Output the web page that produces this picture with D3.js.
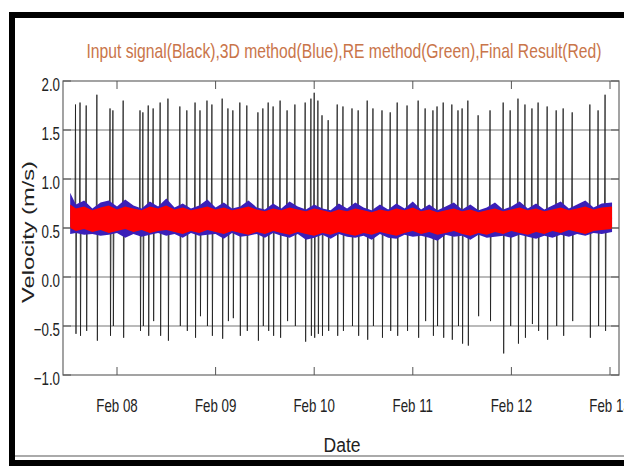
<!DOCTYPE html>
<html>
<head>
<meta charset="utf-8">
<script src="https://cdn.jsdelivr.net/npm/d3@7"></script>
<style>
  body { margin: 0; background: #fff; }
  svg { display: block; }
</style>
</head>
<body>
<div id="chart"></div>
<script>
// spikes of the input signal, hours after Feb 07 00:00
const spikeHours = [13.9, 15.0, 16.5, 19.1, 22.3, 23.0, 25.5, 29.6, 30.3, 31.6, 32.8, 34.5, 36.4,
  39.3, 41.0, 43.0, 44.2, 45.9, 47.1, 49.6, 51.0, 52.2, 53.9, 55.6, 58.3, 59.5, 60.8, 62.0,
  63.7, 65.4, 67.3, 69.8, 71.2, 72.0, 72.9, 73.9, 75.4, 77.6, 79.0, 81.2, 82.7, 84.9, 86.3,
  88.5, 90.5, 92.2, 94.6, 97.3, 99.0, 100.9, 101.9, 103.4, 105.5, 107.0, 108.0, 109.4, 111.9,
  114.8, 118.0, 119.7, 121.6, 123.3, 125.0, 126.5, 128.7, 130.9, 132.6, 134.8, 139.1, 141.1, 142.8]
const spikeHigh = [1.76, 1.78, 1.75, 1.86, 1.72, 1.70, 1.80, 1.70, 1.68, 1.75, 1.72, 1.78, 1.82,
  1.74, 1.70, 1.78, 1.70, 1.80, 1.76, 1.82, 1.72, 1.70, 1.78, 1.75, 1.68, 1.72, 1.78, 1.74,
  1.80, 1.70, 1.76, 1.78, 1.82, 1.88, 1.80, 1.65, 1.60, 1.76, 1.74, 1.72, 1.70, 1.80, 1.72,
  1.70, 1.68, 1.78, 1.75, 1.80, 1.72, 1.70, 1.74, 1.78, 1.76, 1.70, 1.72, 1.80, 1.65,
  1.70, 1.78, 1.70, 1.82, 1.76, 1.72, 1.78, 1.74, 1.70, 1.72, 1.68, 1.76, 1.70, 1.86]
const spikeLow = [-0.58, -0.60, -0.55, -0.65, -0.60, -0.50, -0.62, -0.55, -0.50, -0.60, -0.45, -0.60, -0.65,
  -0.50, -0.55, -0.62, -0.40, -0.50, -0.60, -0.63, -0.45, -0.42, -0.60, -0.55, -0.65, -0.50, -0.55, -0.60,
  -0.62, -0.45, -0.50, -0.66, -0.60, -0.62, -0.58, -0.60, -0.55, -0.60, -0.55, -0.50, -0.60, -0.64, -0.50,
  -0.62, -0.55, -0.60, -0.55, -0.62, -0.45, -0.60, -0.50, -0.62, -0.64, -0.50, -0.68, -0.70, -0.40,
  -0.45, -0.78, -0.50, -0.68, -0.62, -0.48, -0.55, -0.64, -0.50, -0.60, -0.45, -0.62, -0.50, -0.55]
const signalStart = 12.6
const signalEnd = 144.5
const signalBase = 0.6

// noise envelopes of the 3D method (blue) and the final result (red)
const bandHours = [12.6, 14, 16, 18, 20, 22, 24, 26, 28, 30, 32, 34, 36, 38, 40, 42, 44, 46, 48, 50,
  52, 54, 56, 58, 60, 62, 64, 66, 68, 70, 72, 74, 76, 78, 80, 82, 84, 86, 88, 90, 92, 94, 96, 98,
  100, 102, 104, 106, 108, 110, 112, 114, 116, 118, 120, 122, 124, 126, 128, 130, 132, 134, 136,
  138, 140, 142, 144.5]
const redHi = [0.74, 0.70, 0.72, 0.68, 0.71, 0.73, 0.69, 0.72, 0.70, 0.68, 0.72, 0.70, 0.73, 0.69, 0.71, 0.68, 0.70, 0.72,
  0.69, 0.71, 0.68, 0.70, 0.72, 0.69, 0.67, 0.70, 0.68, 0.71, 0.69, 0.67, 0.70, 0.68, 0.66, 0.69, 0.67, 0.70,
  0.68, 0.66, 0.69, 0.67, 0.70, 0.68, 0.71, 0.67, 0.69, 0.66, 0.68, 0.70, 0.67, 0.69, 0.66, 0.68, 0.70, 0.67,
  0.69, 0.71, 0.68, 0.70, 0.67, 0.69, 0.71, 0.68, 0.70, 0.72, 0.69, 0.71, 0.72]
const redLo = [0.50, 0.47, 0.49, 0.46, 0.48, 0.45, 0.47, 0.49, 0.46, 0.48, 0.45, 0.47, 0.48, 0.46, 0.44, 0.47, 0.45, 0.48,
  0.46, 0.44, 0.47, 0.45, 0.43, 0.46, 0.44, 0.47, 0.45, 0.43, 0.46, 0.44, 0.42, 0.45, 0.43, 0.46, 0.44, 0.42,
  0.45, 0.43, 0.46, 0.44, 0.42, 0.45, 0.47, 0.44, 0.46, 0.43, 0.45, 0.47, 0.44, 0.42, 0.45, 0.43, 0.46, 0.44,
  0.47, 0.45, 0.43, 0.46, 0.44, 0.47, 0.45, 0.48, 0.46, 0.44, 0.47, 0.48, 0.49]
const blueHi = [0.86, 0.74, 0.78, 0.70, 0.76, 0.78, 0.72, 0.79, 0.73, 0.70, 0.77, 0.72, 0.80, 0.71, 0.75, 0.70, 0.73, 0.79,
  0.71, 0.76, 0.70, 0.72, 0.78, 0.71, 0.69, 0.75, 0.70, 0.77, 0.72, 0.69, 0.74, 0.70, 0.68, 0.75, 0.70, 0.76,
  0.71, 0.68, 0.74, 0.69, 0.75, 0.70, 0.77, 0.69, 0.74, 0.68, 0.72, 0.76, 0.69, 0.74, 0.68, 0.71, 0.76, 0.69,
  0.72, 0.77, 0.70, 0.75, 0.69, 0.73, 0.77, 0.70, 0.74, 0.78, 0.71, 0.75, 0.76]
const blueLo = [0.44, 0.45, 0.43, 0.44, 0.42, 0.43, 0.45, 0.40, 0.44, 0.41, 0.43, 0.45, 0.42, 0.44, 0.40, 0.45, 0.42, 0.43,
  0.44, 0.39, 0.45, 0.41, 0.42, 0.44, 0.40, 0.45, 0.42, 0.40, 0.44, 0.38, 0.40, 0.43, 0.39, 0.44, 0.41, 0.40,
  0.42, 0.38, 0.44, 0.40, 0.39, 0.43, 0.41, 0.42, 0.40, 0.37, 0.43, 0.41, 0.42, 0.38, 0.43, 0.40, 0.41, 0.42,
  0.40, 0.43, 0.41, 0.39, 0.42, 0.40, 0.43, 0.41, 0.44, 0.42, 0.45, 0.44, 0.46]

const yTicks = [-1.0, -0.5, 0.0, 0.5, 1.0, 1.5, 2.0]
const xTickDates = ["2013-02-08", "2013-02-09", "2013-02-10", "2013-02-11", "2013-02-12", "2013-02-13"]
const titleText = "Input signal(Black),3D method(Blue),RE method(Green),Final Result(Red)"

const W = 624, H = 466
const plot = {left: 63, right: 619, top: 81, bottom: 375}
const font = "'Liberation Sans', Arial, sans-serif"

const parseDay = d3.utcParse("%Y-%m-%d")
const day0 = parseDay("2013-02-07")
const atHour = h => new Date(day0.getTime() + h * 3600e3)
const xTicks = xTickDates.map(parseDay)

const x = d3.scaleUtc()
  .domain([xTicks[0], xTicks[xTicks.length - 1]])
  .range([117, 610])
const y = d3.scaleLinear().domain([-1, 2]).range([plot.bottom, plot.top])

// squeeze texts horizontally, the reference uses a narrow face
function condense (selection, factor) {
  selection.each(function () {
    const len = this.getComputedTextLength()
    d3.select(this).attr("textLength", len * factor).attr("lengthAdjust", "spacingAndGlyphs")
  })
}

const svg = d3.select("#chart").append("svg")
  .attr("width", W)
  .attr("height", H)

svg.append("rect").attr("width", W).attr("height", H).attr("fill", "#fff")

svg.append("defs").append("clipPath").attr("id", "clip")
  .append("rect")
  .attr("x", plot.left).attr("y", plot.top)
  .attr("width", plot.right - plot.left).attr("height", plot.bottom - plot.top)

// grid
svg.append("g")
  .selectAll("line")
  .data(yTicks.slice(1, -1))
  .join("line")
  .attr("x1", plot.left).attr("x2", plot.right)
  .attr("y1", d => y(d)).attr("y2", d => y(d))
  .attr("stroke", "#777")
  .attr("stroke-width", 1.2)

const marks = svg.append("g").attr("clip-path", "url(#clip)")

// input signal built from its spikes
const signal = [{h: signalStart, v: signalBase}]
spikeHours.forEach((h, i) => {
  signal.push({h: h - 0.15, v: signalBase})
  signal.push({h: h, v: spikeHigh[i]})
  signal.push({h: h + 0.12, v: spikeLow[i]})
  signal.push({h: h + 0.25, v: signalBase})
})
signal.push({h: signalEnd, v: signalBase})

marks.append("path")
  .datum(signal)
  .attr("fill", "none")
  .attr("stroke", "#1a1a1a")
  .attr("stroke-width", 1)
  .attr("stroke-opacity", 0.8)
  .attr("d", d3.line().x(d => x(atHour(d.h))).y(d => y(d.v)))

const band = (hi, lo) => d3.area()
  .x(d => x(atHour(d)))
  .y0((d, i) => y(lo[i]))
  .y1((d, i) => y(hi[i]))

marks.append("path")
  .datum(bandHours)
  .attr("fill", "#3a1fb8")
  .attr("d", band(blueHi, blueLo))

marks.append("path")
  .datum(bandHours)
  .attr("fill", "#ff0000")
  .attr("d", band(redHi, redLo))

// frame of the axes
svg.append("rect")
  .attr("x", plot.left).attr("y", plot.top)
  .attr("width", plot.right - plot.left).attr("height", plot.bottom - plot.top)
  .attr("fill", "none")
  .attr("stroke", "#666")
  .attr("stroke-width", 1.2)

// inward ticks, matplotlib style
const tickLen = 8
const ticks = svg.append("g").attr("stroke", "#555").attr("stroke-width", 1)
xTicks.forEach(t => {
  ticks.append("line").attr("x1", x(t)).attr("x2", x(t)).attr("y1", plot.bottom).attr("y2", plot.bottom - tickLen)
  ticks.append("line").attr("x1", x(t)).attr("x2", x(t)).attr("y1", plot.top).attr("y2", plot.top + tickLen)
})
yTicks.forEach(v => {
  ticks.append("line").attr("x1", plot.left).attr("x2", plot.left + tickLen).attr("y1", y(v)).attr("y2", y(v))
  ticks.append("line").attr("x1", plot.right).attr("x2", plot.right - tickLen).attr("y1", y(v)).attr("y2", y(v))
})

svg.append("g")
  .selectAll("text")
  .data(yTicks)
  .join("text")
  .attr("x", plot.left - 3)
  .attr("y", d => y(d) + 10)
  .attr("text-anchor", "end")
  .attr("font-family", font)
  .attr("font-size", 19)
  .attr("fill", "#222")
  .text(d3.format(".1f"))
  .call(condense, 0.7)

svg.append("g")
  .selectAll("text")
  .data(xTicks)
  .join("text")
  .attr("x", d => x(d))
  .attr("y", plot.bottom + 37)
  .attr("text-anchor", "middle")
  .attr("font-family", font)
  .attr("font-size", 19)
  .attr("fill", "#222")
  .text(d3.utcFormat("%b %d"))
  .call(condense, 0.7)

svg.append("text")
  .attr("x", 342)
  .attr("y", 452)
  .attr("text-anchor", "middle")
  .attr("font-family", font)
  .attr("font-size", 20)
  .attr("fill", "#222")
  .attr("textLength", 37)
  .attr("lengthAdjust", "spacingAndGlyphs")
  .text("Date")

svg.append("text")
  .attr("transform", "translate(34,232) rotate(-90)")
  .attr("text-anchor", "middle")
  .attr("font-family", font)
  .attr("font-size", 17)
  .attr("fill", "#222")
  .attr("textLength", 142)
  .attr("lengthAdjust", "spacingAndGlyphs")
  .text("Velocity (m/s)")

svg.append("text")
  .attr("x", 344)
  .attr("y", 58)
  .attr("text-anchor", "middle")
  .attr("font-family", font)
  .attr("font-size", 21)
  .attr("fill", "#c9754a")
  .attr("textLength", 515)
  .attr("lengthAdjust", "spacingAndGlyphs")
  .text(titleText)

// outer black frame of the figure
svg.append("line")
  .attr("x1", 12).attr("x2", W).attr("y1", 456).attr("y2", 456)
  .attr("stroke", "#aaa").attr("stroke-width", 2)
svg.append("rect")
  .attr("x", 12).attr("y", 15)
  .attr("width", W + 20).attr("height", 448)
  .attr("fill", "none")
  .attr("stroke", "#000")
  .attr("stroke-width", 6)
</script>
</body>
</html>
